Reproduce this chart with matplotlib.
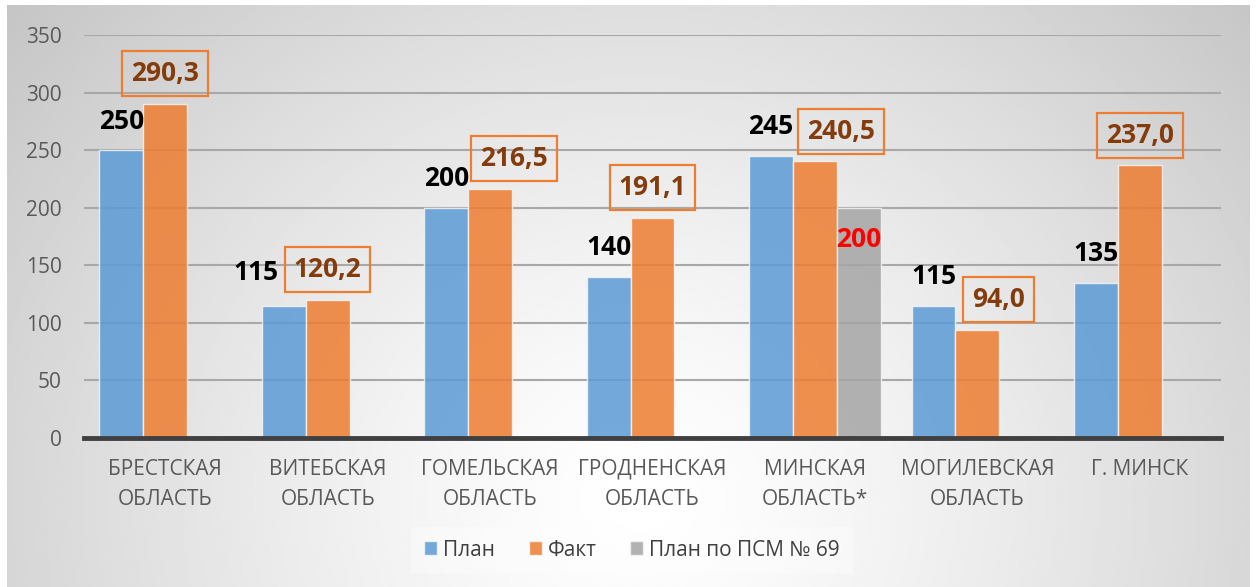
import matplotlib.pyplot as plt
import numpy as np
from matplotlib.patches import Patch

plt.rcParams['font.family'] = ['Open Sans', 'DejaVu Sans']

categories = ['БРЕСТСКАЯ\nОБЛАСТЬ', 'ВИТЕБСКАЯ\nОБЛАСТЬ', 'ГОМЕЛЬСКАЯ\nОБЛАСТЬ',
              'ГРОДНЕНСКАЯ\nОБЛАСТЬ', 'МИНСКАЯ\nОБЛАСТЬ*', 'МОГИЛЕВСКАЯ\nОБЛАСТЬ',
              'Г. МИНСК']
plan = [250, 115, 200, 140, 245, 115, 135]
fact = [290.3, 120.2, 216.5, 191.1, 240.5, 94.0, 237.0]
plan_psm = [np.nan, np.nan, np.nan, np.nan, 200, np.nan, np.nan]
series_names = ['План', 'Факт', 'План по ПСМ № 69']

W, H = 1256, 587
fig = plt.figure(figsize=(W / 100, H / 100), dpi=100)
fig.patch.set_facecolor('white')

# radial grey background of the chart area
bg = fig.add_axes([7 / W, 0, (1250 - 7) / W, (587 - 5) / H], zorder=-10)
gx, gy = np.meshgrid(np.linspace(7, 1250, 400), np.linspace(5, 587, 200))
r = np.sqrt(((gx - 640) / 628) ** 2 + ((gy - 500) / 580) ** 2)
shade = 1 - 0.23 * np.clip(r / 1.33, 0, 1.2) ** 1.3
bg.imshow(shade, cmap='gray', vmin=0, vmax=1, aspect='auto',
          extent=[0, 1, 0, 1], interpolation='bilinear')
bg.axis('off')

ax = fig.add_axes([84 / W, 1 - 438 / H, (1221 - 84) / W, (438 - 35) / H])
ax.patch.set_alpha(0)

x = np.arange(len(categories))
bw = 0.27
colors = ['#5B9BD5', '#ED7D31', '#A5A5A5']
for i, (vals, col) in enumerate(zip([plan, fact, plan_psm], colors)):
    ax.bar(x + (i - 1) * bw, vals, bw, color=col, alpha=0.85,
           edgecolor='#f4f4f4', linewidth=1, zorder=3)

ax.set_ylim(0, 350)
ax.set_xlim(-0.5, len(categories) - 0.5)
ax.set_yticks(range(0, 351, 50))
ax.yaxis.grid(True, color='#a8a8a8', linewidth=1.5, zorder=1)
ax.set_axisbelow(True)
for s in ['top', 'right', 'left']:
    ax.spines[s].set_visible(False)
ax.spines['bottom'].set_color('#404040')
ax.spines['bottom'].set_linewidth(3.5)
ax.spines['bottom'].set_zorder(5)
ax.tick_params(axis='both', length=0, labelsize=15, colors='#595959')
ax.tick_params(axis='y', pad=16)
ax.tick_params(axis='x', pad=15)
ax.set_xticks(x)
ax.set_xticklabels(categories, linespacing=1.55)

# data labels (pixel nudges as placed in the original)
px = 0.72
plan_dx = [0, -28, 0, 0, 0, 0, 0]
fact_dx = [0, 0, 24, 0, 26, 21, 0]
for i, v in enumerate(plan):
    dy = 33 if i == 1 else 29
    ax.annotate(f'{v:.0f}', (x[i] - bw, v), xytext=(plan_dx[i] * px, dy * px),
                textcoords='offset points', ha='center', va='center',
                fontsize=19, fontweight='bold', color='black', zorder=6)
for i, v in enumerate(fact):
    ax.annotate(f'{v:.1f}'.replace('.', ','), (x[i], v),
                xytext=(fact_dx[i] * px, 30 * px),
                textcoords='offset points', ha='center', va='center',
                fontsize=19, fontweight='bold', color='#843C0C', zorder=6,
                bbox=dict(boxstyle='square,pad=0.34', fc='none',
                          ec='#ED7D31', lw=1.6))
for i, v in enumerate(plan_psm):
    if not np.isnan(v):
        ax.annotate(f'{v:.0f}', (x[i] + bw, v), xytext=(0, -32 * px),
                    textcoords='offset points', ha='center', va='center',
                    fontsize=19, fontweight='bold', color='#FF0000', zorder=6)

handles = [Patch(facecolor=c, alpha=0.85, edgecolor='#f4f4f4') for c in colors]
leg = fig.legend(handles, series_names, loc='center',
                 bbox_to_anchor=(632 / W, 1 - 550 / H), ncol=3, fontsize=15,
                 frameon=True, fancybox=False, handlelength=0.63,
                 handleheight=0.63, handletextpad=0.3, columnspacing=1.6,
                 borderpad=0.6)
leg.get_frame().set_facecolor('white')
leg.get_frame().set_alpha(0.35)
leg.get_frame().set_edgecolor('none')
for t in leg.get_texts():
    t.set_color('#404040')

fig.savefig('out.png', dpi=100)
